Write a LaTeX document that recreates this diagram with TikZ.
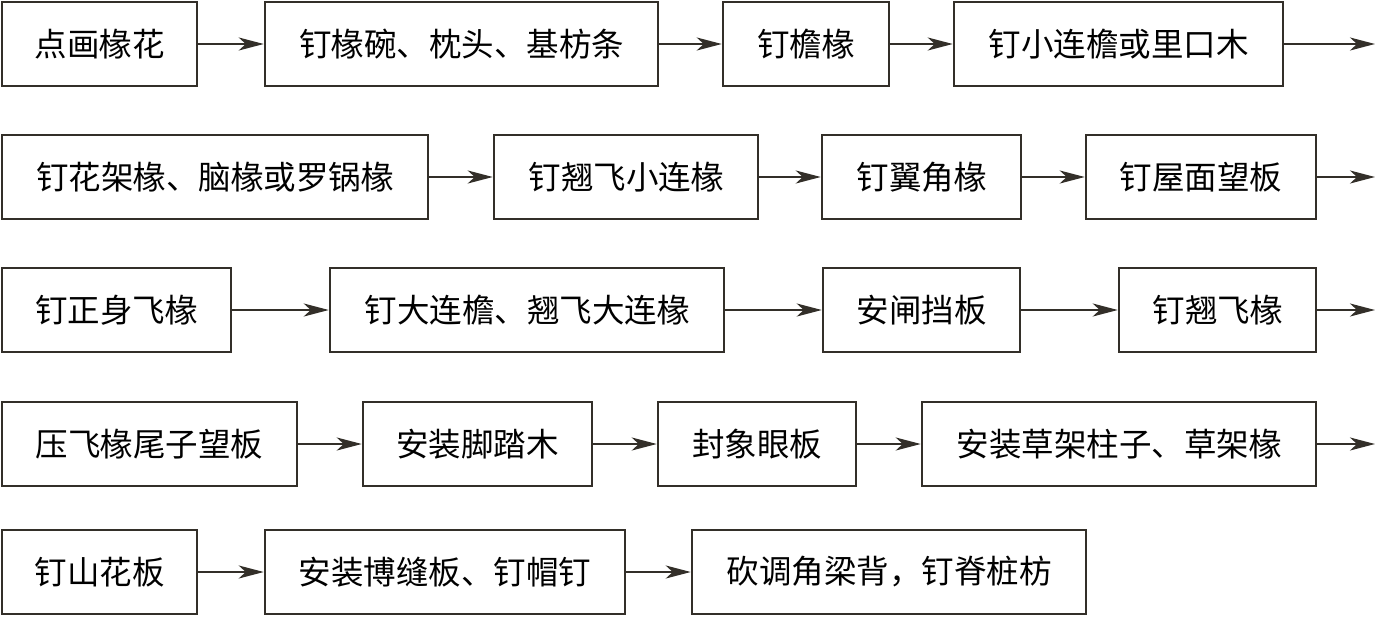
\documentclass[tikz,border=0pt]{standalone}
\usepackage{fontspec}
\setmainfont{Noto Sans CJK SC}
\usetikzlibrary{arrows.meta}
\begin{document}
\begin{tikzpicture}[x=1pt,y=-1pt,
  box/.style={draw=black!85!olive, line width=2.5pt, minimum height=84pt, inner sep=0pt, font=\fontsize{32.5}{32.5}\selectfont, text=black},
  flow/.style={line width=2.2pt, draw=black!85!olive, -{Stealth[length=25pt,width=13pt,inset=7pt]}}]
\useasboundingbox (0,0) rectangle (1378,616);
% helper: \bx{name}{x1}{x2}{ycenter}{text}
\newcommand{\bx}[5]{\node[box, minimum width={#3-#2}] (#1) at ({(#2+#3)/2},#4) {#5};}
% row 1
\bx{a1}{2}{197}{44}{点画椽花}
\bx{a2}{265}{658}{44}{钉椽碗、枕头、基枋条}
\bx{a3}{723}{889}{44}{钉檐椽}
\bx{a4}{954}{1283}{44}{钉小连檐或里口木}
\coordinate (ea) at (1375,44);
% row 2
\bx{b1}{2}{428}{177}{钉花架椽、脑椽或罗锅椽}
\bx{b2}{494}{758}{177}{钉翘飞小连椽}
\bx{b3}{822}{1021}{177}{钉翼角椽}
\bx{b4}{1086}{1316}{177}{钉屋面望板}
\coordinate (eb) at (1375,177);
% row 3
\bx{c1}{2}{231}{310}{钉正身飞椽}
\bx{c2}{330}{724}{310}{钉大连檐、翘飞大连椽}
\bx{c3}{823}{1020}{310}{安闸挡板}
\bx{c4}{1119}{1316}{310}{钉翘飞椽}
\coordinate (ec) at (1375,310);
% row 4
\bx{d1}{2}{297}{444}{压飞椽尾子望板}
\bx{d2}{363}{592}{444}{安装脚踏木}
\bx{d3}{658}{856}{444}{封象眼板}
\bx{d4}{922}{1316}{444}{安装草架柱子、草架椽}
\coordinate (ed) at (1375,444);
% row 5
\bx{e1}{2}{197}{572}{钉山花板}
\bx{e2}{265}{625}{572}{安装博缝板、钉帽钉}
\bx{e3}{692}{1086}{572}{砍调角梁背，钉脊桩枋}
% arrows
\draw[flow] (a1) -- (a2);
\draw[flow] (a2) -- (a3);
\draw[flow] (a3) -- (a4);
\draw[flow] (a4) -- (ea);
\draw[flow] (b1) -- (b2);
\draw[flow] (b2) -- (b3);
\draw[flow] (b3) -- (b4);
\draw[flow] (b4) -- (eb);
\draw[flow] (c1) -- (c2);
\draw[flow] (c2) -- (c3);
\draw[flow] (c3) -- (c4);
\draw[flow] (c4) -- (ec);
\draw[flow] (d1) -- (d2);
\draw[flow] (d2) -- (d3);
\draw[flow] (d3) -- (d4);
\draw[flow] (d4) -- (ed);
\draw[flow] (e1) -- (e2);
\draw[flow] (e2) -- (e3);
\end{tikzpicture}
\end{document}
